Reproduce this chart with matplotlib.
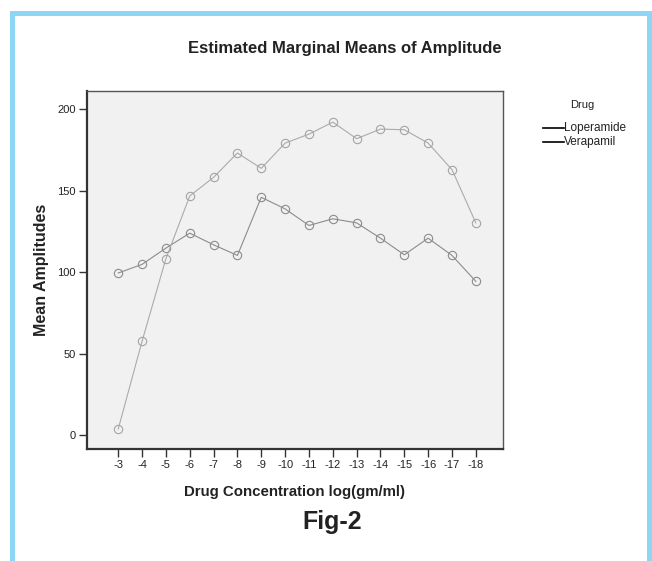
import matplotlib
matplotlib.use('Agg')
from matplotlib import pyplot as plt
from matplotlib.patches import Rectangle
from matplotlib.lines import Line2D
import numpy as np

plt.rcParams['font.family'] = ['Liberation Sans', 'DejaVu Sans']

concentrations = ['-3', '-4', '-5', '-6', '-7', '-8', '-9', '-10',
                  '-11', '-12', '-13', '-14', '-15', '-16', '-17', '-18']
loperamide = [99.5, 104.8, 114.8, 124.0, 116.8, 110.3, 146.0, 138.9,
              128.7, 132.8, 130.3, 120.9, 110.7, 120.9, 110.3, 94.4]
verapamil = [3.7, 57.6, 108.3, 146.8, 158.3, 173.2, 163.8, 179.3,
             184.8, 192.2, 182.0, 187.9, 187.5, 179.3, 163.0, 130.3]
series_names = ['Loperamide', 'Verapamil']

W, H = 652, 561
fig = plt.figure(figsize=(W / 100, H / 100), dpi=100)
fig.patch.set_facecolor('white')

# light blue page frame (left, top, right)
frame = '#8dd6f5'
for x0, y0, w, h in [(10, 0, 5, 550), (10, 545, 642, 5), (647, 0, 5, 550)]:
    fig.add_artist(Rectangle((x0 / W, y0 / H), w / W, h / H,
                             transform=fig.transFigure, color=frame, lw=0))

ax = fig.add_axes([87 / W, 1 - 449 / H, 416 / W, 358 / H])
ax.set_facecolor('#f1f1f1')

x = np.arange(len(concentrations))
ax.plot(x, loperamide, color='#8c8c8c', lw=0.8, marker='o', ms=6,
        mfc='none', mec='#8c8c8c', mew=0.8)
ax.plot(x, verapamil, color='#ababab', lw=0.8, marker='o', ms=6,
        mfc='none', mec='#a4a4a4', mew=0.8)

ax.set_xlim(-1.31, 16.14)
ax.set_ylim(-8.6, 211.3)
ax.set_xticks(x)
ax.set_xticklabels(concentrations)
ax.set_yticks([0, 50, 100, 150, 200])
ax.tick_params(direction='out', length=6, width=1, color='#333333',
               labelsize=8, labelcolor='#222222', pad=2)
for s in ['top', 'right']:
    ax.spines[s].set_color('#555555')
    ax.spines[s].set_linewidth(1.0)
for s in ['left', 'bottom']:
    ax.spines[s].set_color('#333333')
    ax.spines[s].set_linewidth(1.6)

fig.text(345 / W, 1 - 48 / H, 'Estimated Marginal Means of Amplitude',
         ha='center', va='center', fontsize=12, fontweight='bold', color='#222222')
fig.text(294 / W, 1 - 492 / H, 'Drug Concentration log(gm/ml)',
         ha='center', va='center', fontsize=10.8, fontweight='bold', color='#222222')
fig.text(42 / W, 1 - 270 / H, 'Mean Amplitudes', rotation=90,
         ha='center', va='center', fontsize=11.5, fontweight='bold', color='#222222')
fig.text(332 / W, 1 - 522 / H, 'Fig-2',
         ha='center', va='center', fontsize=18, fontweight='bold', color='#222222')

# legend
fig.text(582 / W, 1 - 105 / H, 'Drug', ha='center', va='center',
         fontsize=8, color='#222222')
for i, name in enumerate(series_names):
    yy = 1 - (128 + 14 * i) / H
    fig.add_artist(Line2D([543 / W, 564 / W], [yy, yy], color='black', lw=1.2,
                          transform=fig.transFigure))
    fig.text(564 / W, yy, name, ha='left', va='center', fontsize=8.5,
             color='#222222')

fig.savefig('out.png', dpi=100)
